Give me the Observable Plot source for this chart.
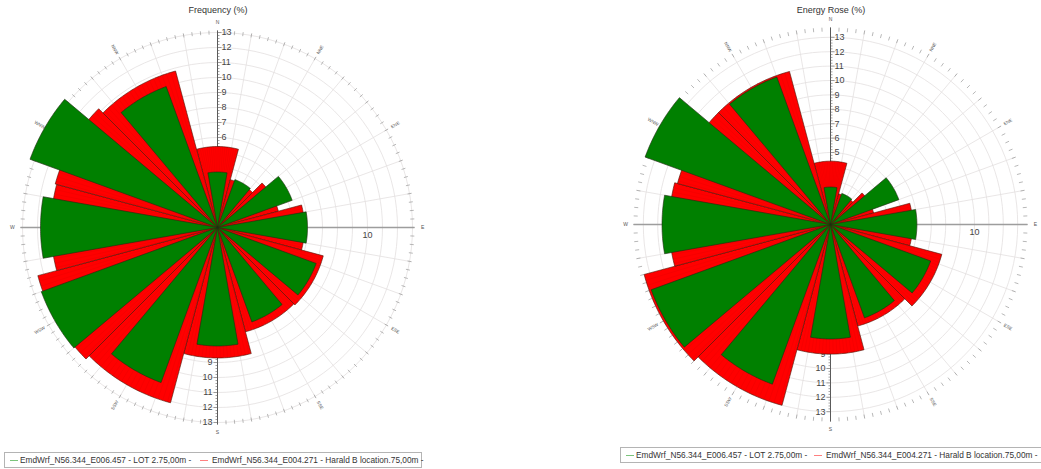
<!DOCTYPE html>
<html><head><meta charset="utf-8">
<script src="https://cdn.jsdelivr.net/npm/d3@7"></script>
<script src="https://cdn.jsdelivr.net/npm/@observablehq/plot@0.6"></script>
<style>
body{margin:0;background:#fff;font-family:"Liberation Sans",Arial,sans-serif;}
#page{position:relative;width:1041px;height:469px;overflow:hidden;background:#fff;}
.chart{position:absolute;top:0;}
.title{position:absolute;font-size:9px;color:#333;transform:translateX(-50%);white-space:nowrap;line-height:10px;}
.legend{position:absolute;height:16px;border:1px solid #b4b4b4;box-sizing:border-box;font-size:8.3px;color:#333;white-space:nowrap;}
.legend span{position:absolute;top:2px;line-height:10px;}
.legend i{position:absolute;top:7px;width:8px;height:1px;}
</style></head><body><div id="page"></div>
<script>
// ---- data ----
const directions = ["N","NNE","ENE","E","ESE","SSE","S","SSW","WSW","W","WNW","NNW"];
const directionAngles = [0,30,60,90,120,150,180,210,240,270,300,330];
const freqLOT2    = [3.7,3.4,5.3,6.0,7.0,6.7,7.9,11.0,12.5,11.8,13.3,10.0];
const freqHaraldB = [5.4,3.3,4.2,5.8,7.3,7.2,8.7,12.1,12.4,11.1,11.2,10.8];
const energyLOT2    = [2.6,2.3,5.05,6.0,7.4,6.9,7.95,11.8,13.25,11.7,13.7,10.9];
const energyHaraldB = [4.4,2.2,3.1,5.7,8.0,7.3,9.0,13.0,13.4,11.2,11.0,11.0];
const radialTicks = [1,2,3,4,5,6,7,8,9,10,11,12,13];
const eastAxisLabels = [10];
const compassLetters = ["N","E","S","W"];
const compassAngles = [0,90,180,270];
const seriesNames = ["EmdWrf_N56.344_E006.457 - LOT 2.75,00m -","EmdWrf_N56.344_E004.271 - Harald B location.75,00m -"];
const seriesColors = ["#008000","#ff0000"];
const titles = ["Frequency (%)","Energy Rose (%)"];

const rad = d => d*Math.PI/180;
const px = (r,a) => r*Math.sin(rad(a));
const py = (r,a) => r*Math.cos(rad(a));

function wedgeRows(values, half, tag){
  const rows=[];
  values.forEach((v,i)=>{
    const c=directionAngles[i], n=30, id=tag+i;
    rows.push({id,x:0,y:0});
    for(let k=0;k<=n;k++){const a=c-half+2*half*k/n; rows.push({id,x:px(v,a),y:py(v,a)});}
    rows.push({id,x:0,y:0});
  });
  return rows;
}

function rose({lot, harald, cx, cy, scale, outerPx, width, height}){
  const R = outerPx/scale, D = 15;
  const circleRows = [];
  radialTicks.forEach(r=>{for(let a=0;a<=360;a+=3) circleRows.push({r,x:px(r,a),y:py(r,a)});});
  const spokes = d3.range(0,360,10);
  const ringTicks = d3.range(0,360,2.5);
  const minor = d3.range(-65,66).map(k=>k/5).filter(v=>v!==0 && Math.abs(v)<=R);
  const u = 1/scale; // one pixel in data units
  const redStripes = [];
  harald.forEach((v,i)=>{const c=directionAngles[i]; for(let a=c-14;a<=c+14.01;a+=1.6) redStripes.push({a,v});});
  return Plot.plot({
    width, height, margin:0,
    style:{background:"transparent",overflow:"visible",fontFamily:"Liberation Sans, Arial, sans-serif"},
    x:{domain:[-D,D], range:[cx-D*scale, cx+D*scale], axis:null},
    y:{domain:[-D,D], range:[cy+D*scale, cy-D*scale], axis:null},
    marks:[
      Plot.line(circleRows,{x:"x",y:"y",z:"r",stroke:"#e3dfdf",strokeWidth:0.8}),
      Plot.link(spokes,{x1:0,y1:0,x2:a=>px(R,a),y2:a=>py(R,a),stroke:"#e3dfdf",strokeWidth:0.8}),
      Plot.link(ringTicks,{x1:a=>px(R-4*u,a),y1:a=>py(R-4*u,a),x2:a=>px(R,a),y2:a=>py(R,a),stroke:"#9a9a9a",strokeWidth:0.7}),
      Plot.link([0],{x1:-R,x2:R,y1:0,y2:0,stroke:"#9d9d9d",strokeWidth:1.6}),
      Plot.link([0],{x1:0,x2:0,y1:-R,y2:R,stroke:"#5a5a5a",strokeWidth:1}),
      Plot.link(minor,{x1:0,x2:v=>(v>0?1:-1)*(Number.isInteger(Math.round(v*1000)/1000)?4:2)*u,y1:v=>v,y2:v=>v,stroke:"#666",strokeWidth:0.6}),
      Plot.text(radialTicks,{x:0,y:v=>v,text:v=>String(v),dx:4,textAnchor:"start",fontSize:9,fill:"#444"}),
      Plot.text(radialTicks,{x:0,y:v=>-v,text:v=>String(v),dx:-5,textAnchor:"end",fontSize:9,fill:"#444"}),
      Plot.text(eastAxisLabels,{x:v=>v,y:0,text:v=>String(v),dy:8,fontSize:9,fill:"#444"}),
      Plot.text(compassAngles,{x:a=>px(R+0.55,a),y:a=>py(R+0.55,a),text:(a,i)=>compassLetters[i],fontSize:5,fill:"#555"}),
      Plot.text(directions.map((d,i)=>i).filter(i=>directionAngles[i]%90!==0),{x:i=>px(R+0.55,directionAngles[i]),y:i=>py(R+0.55,directionAngles[i]),text:i=>directions[i],rotate:i=>directionAngles[i]<180?directionAngles[i]-90:directionAngles[i]-270,fontSize:4.5,fill:"#555"}),
      Plot.line(wedgeRows(harald,15,"h"),{x:"x",y:"y",z:"id",fill:seriesColors[1],stroke:"#4a1405",strokeWidth:0.6,curve:"linear"}),
      Plot.link(redStripes,{x1:0,y1:0,x2:d=>px(d.v-0.3*u,d.a),y2:d=>py(d.v-0.3*u,d.a),stroke:"#d40000",strokeWidth:0.35,strokeOpacity:0.6}),
      Plot.line(wedgeRows(lot,10,"l"),{x:"x",y:"y",z:"id",fill:seriesColors[0],stroke:"#1e2a10",strokeWidth:0.6,curve:"linear"})
    ]
  });
}

const page = document.getElementById("page");
function place(node, left, top){node.classList.add("chart");node.style.left=left+"px";node.style.top=top+"px";page.appendChild(node);}

place(rose({lot:freqLOT2,harald:freqHaraldB,cx:217,cy:227,scale:15,outerPx:197,width:440,height:445}),0,0);
place(rose({lot:energyLOT2,harald:energyHaraldB,cx:230,cy:224,scale:14.4,outerPx:197,width:441,height:445}),600,0);

function addTitle(text,x,y){const d=document.createElement("div");d.className="title";d.textContent=text;d.style.left=x+"px";d.style.top=y+"px";page.appendChild(d);}
addTitle(titles[0],218,5);
addTitle(titles[1],831,5);

function addLegend(left,top,w,offs){
  const box=document.createElement("div");box.className="legend";
  box.style.left=left+"px";box.style.top=top+"px";box.style.width=w+"px";
  seriesNames.forEach((name,i)=>{
    const sw=document.createElement("i");sw.style.left=offs[i][0]+"px";sw.style.background=i===0?"#7cc47c":"#ff8080";box.appendChild(sw);
    const s=document.createElement("span");s.style.left=offs[i][1]+"px";s.textContent=name;box.appendChild(s);
  });
  page.appendChild(box);
}
addLegend(4,452,418,[[5,15],[195,207]]);
addLegend(620,447,425,[[5,15],[193,205]]);
</script></body></html>
